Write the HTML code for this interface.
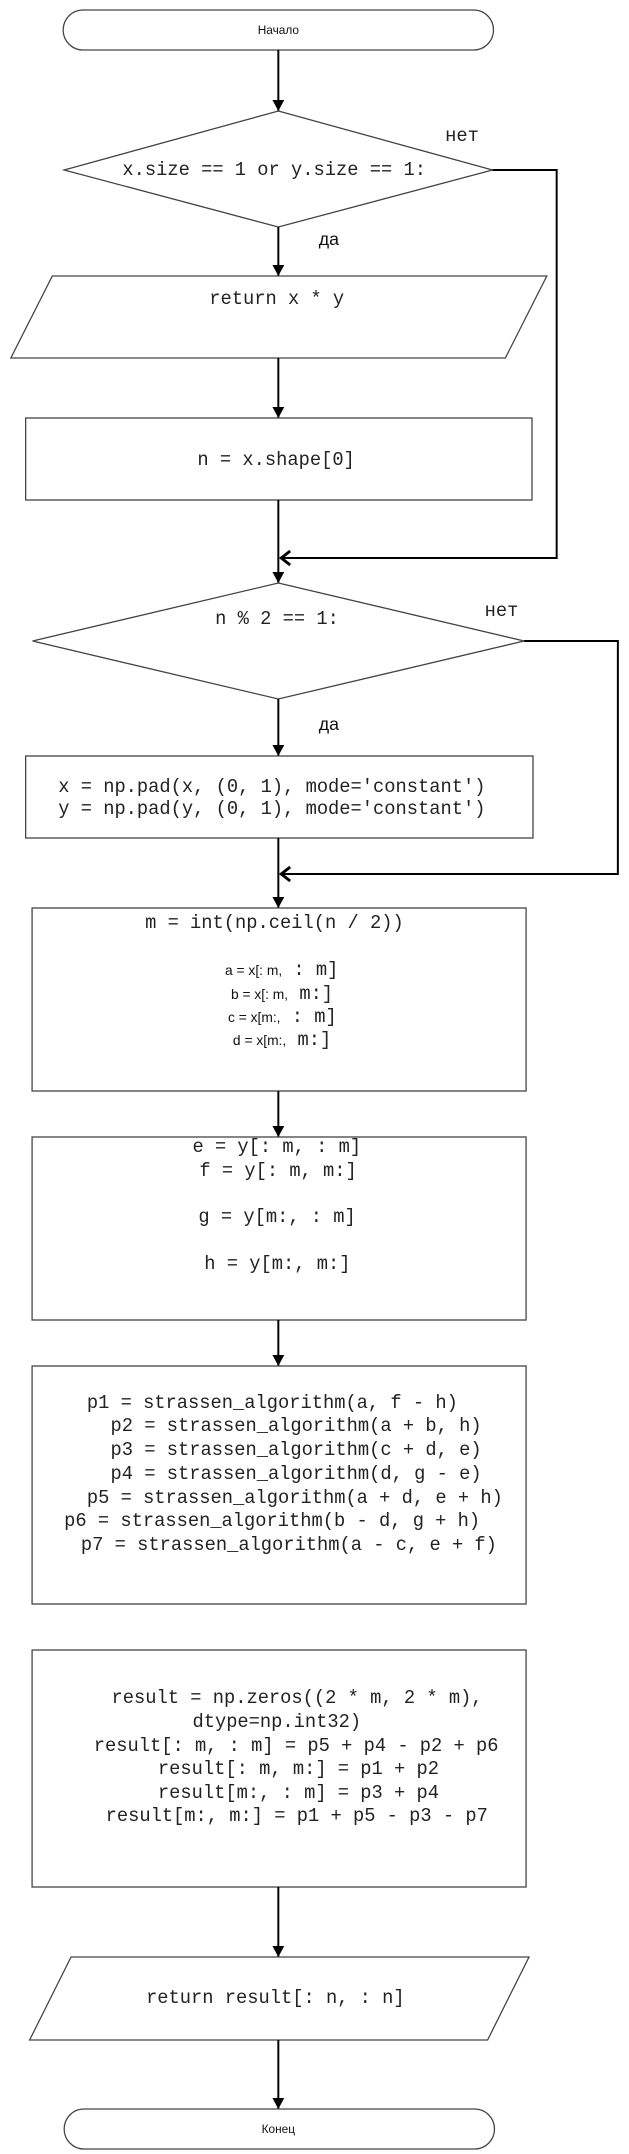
<!DOCTYPE html>
<html><head><meta charset="utf-8"><style>
html,body{margin:0;padding:0;background:#fff;}
svg{display:block;}
.m{font-family:"Liberation Mono","DejaVu Sans Mono",monospace;font-size:19px;fill:#222;}
.s{font-family:"Liberation Sans","DejaVu Sans",sans-serif;fill:#111;}
.b{fill:#fff;stroke:#444;stroke-width:1.3;}
.l{fill:none;stroke:#000;stroke-width:2;}
</style></head><body>
<svg width="629" height="2154" viewBox="0 0 629 2154" xmlns="http://www.w3.org/2000/svg">
<defs>
<marker id="a" markerWidth="12" markerHeight="12" refX="6" refY="11" orient="0" markerUnits="userSpaceOnUse">
<path d="M0,0 L12,0 L6,11 Z" fill="#000"/></marker>
</defs>
<g dominant-baseline="central" transform="scale(0.987,1)">
<!-- start -->
<rect x="64" y="10" width="436" height="40" rx="20" class="b"/>
<text x="282" y="30" class="s" font-size="12" text-anchor="middle">Начало</text>
<line x1="282" y1="50" x2="282" y2="111" class="l" marker-end="url(#a)"/>
<!-- diamond 1 -->
<polygon points="282,111 499,170 282,227 65,170" class="b"/>
<text x="124" y="170" class="m">x.size == 1 or y.size == 1:</text>
<text x="451" y="136" class="m">нет</text>
<polyline points="499,170 564,170 564,558 284,558" class="l"/>
<polyline points="294,551 285,558 294,565" fill="none" stroke="#000" stroke-width="3"/>
<text x="323" y="239" class="s" font-size="18">да</text>
<line x1="282" y1="227" x2="282" y2="276" class="l" marker-end="url(#a)"/>
<!-- para 1 -->
<polygon points="53,276 554,276 512,358 11,358" class="b"/>
<text x="212" y="299" class="m">return x * y</text>
<line x1="282" y1="358" x2="282" y2="418" class="l" marker-end="url(#a)"/>
<!-- rect1 -->
<rect x="26" y="418" width="513" height="82" class="b"/>
<text x="200" y="460" class="m">n = x.shape[0]</text>
<line x1="282" y1="500" x2="282" y2="583" class="l" marker-end="url(#a)"/>
<!-- diamond 2 -->
<polygon points="282,583 531,641 282,699 33,641" class="b"/>
<text x="218" y="619" class="m">n % 2 == 1:</text>
<text x="491" y="611" class="m">нет</text>
<polyline points="531,641 626,641 626,874 284,874" class="l"/>
<polyline points="294,867 285,874 294,881" fill="none" stroke="#000" stroke-width="3"/>
<text x="323" y="724" class="s" font-size="18">да</text>
<line x1="282" y1="699" x2="282" y2="756" class="l" marker-end="url(#a)"/>
<!-- rect2 -->
<rect x="26" y="756" width="514" height="82" class="b"/>
<text x="59" y="787" class="m">x = np.pad(x, (0, 1), mode='constant')</text>
<text x="59" y="809" class="m">y = np.pad(y, (0, 1), mode='constant')</text>
<line x1="282" y1="838" x2="282" y2="908" class="l" marker-end="url(#a)"/>
<!-- rect3 -->
<rect x="32.5" y="908" width="500.5" height="183" class="b"/>
<text x="147" y="923" class="m">m = int(np.ceil(n / 2))</text>
<text x="228" y="970"><tspan class="s" font-size="14">a = x[: m,</tspan><tspan class="m" font-size="16"> : m]</tspan></text>
<text x="234" y="994"><tspan class="s" font-size="14">b = x[: m,</tspan><tspan class="m" font-size="16"> m:]</tspan></text>
<text x="231" y="1017"><tspan class="s" font-size="14">c = x[m:,</tspan><tspan class="m" font-size="16"> : m]</tspan></text>
<text x="236" y="1040"><tspan class="s" font-size="14">d = x[m:,</tspan><tspan class="m" font-size="16"> m:]</tspan></text>
<line x1="282" y1="1091" x2="282" y2="1137" class="l" marker-end="url(#a)"/>
<!-- rect4 -->
<rect x="32.5" y="1137" width="500.5" height="183" class="b"/>
<text x="195" y="1147" class="m">e = y[: m, : m]</text>
<text x="202" y="1171" class="m">f = y[: m, m:]</text>
<text x="201" y="1217" class="m">g = y[m:, : m]</text>
<text x="207" y="1264" class="m">h = y[m:, m:]</text>
<line x1="282" y1="1320" x2="282" y2="1366" class="l" marker-end="url(#a)"/>
<!-- rect5 -->
<rect x="32.5" y="1366" width="500.5" height="238" class="b"/>
<text x="88" y="1403" class="m">p1 = strassen_algorithm(a, f - h)</text>
<text x="112" y="1426" class="m">p2 = strassen_algorithm(a + b, h)</text>
<text x="112" y="1450" class="m">p3 = strassen_algorithm(c + d, e)</text>
<text x="112" y="1474" class="m">p4 = strassen_algorithm(d, g - e)</text>
<text x="88" y="1498" class="m">p5 = strassen_algorithm(a + d, e + h)</text>
<text x="65" y="1521" class="m">p6 = strassen_algorithm(b - d, g + h)</text>
<text x="82" y="1545" class="m">p7 = strassen_algorithm(a - c, e + f)</text>
<!-- rect6 -->
<rect x="32.5" y="1650" width="500.5" height="237" class="b"/>
<text x="113" y="1698" class="m">result = np.zeros((2 * m, 2 * m),</text>
<text x="195" y="1722" class="m">dtype=np.int32)</text>
<text x="95" y="1746" class="m">result[: m, : m] = p5 + p4 - p2 + p6</text>
<text x="160" y="1769" class="m">result[: m, m:] = p1 + p2</text>
<text x="160" y="1793" class="m">result[m:, : m] = p3 + p4</text>
<text x="107" y="1816" class="m">result[m:, m:] = p1 + p5 - p3 - p7</text>
<line x1="282" y1="1887" x2="282" y2="1957" class="l" marker-end="url(#a)"/>
<!-- para 2 -->
<polygon points="72,1957 536,1957 494,2040 30,2040" class="b"/>
<text x="148" y="1998" class="m">return result[: n, : n]</text>
<line x1="282" y1="2040" x2="282" y2="2109" class="l" marker-end="url(#a)"/>
<!-- end -->
<rect x="65" y="2109" width="436" height="40" rx="20" class="b"/>
<text x="282" y="2129" class="s" font-size="12" text-anchor="middle">Конец</text>
</g>
</svg>
</body></html>
